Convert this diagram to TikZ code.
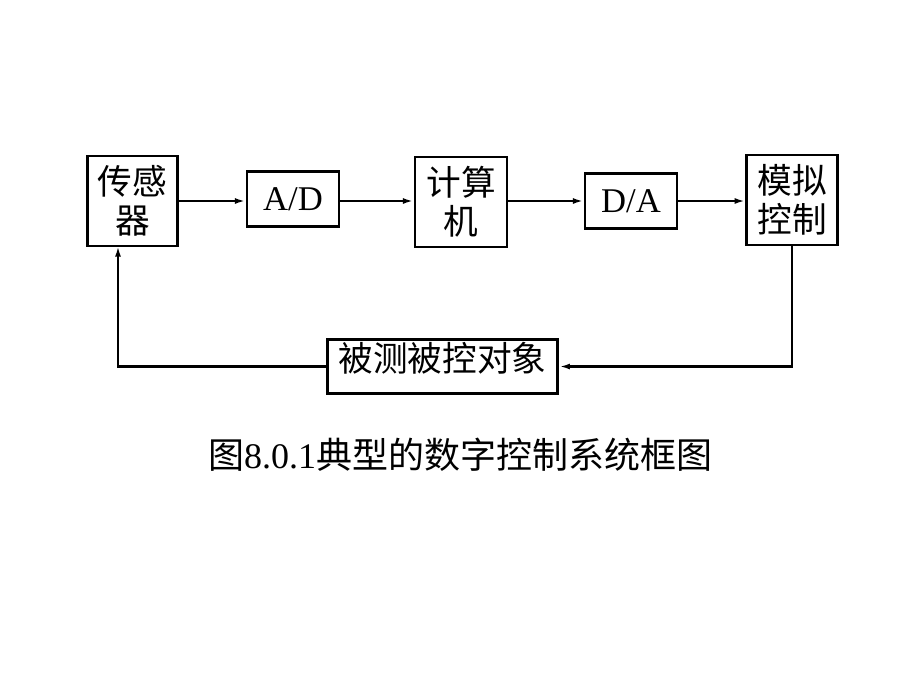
\documentclass[tikz,border=0pt]{standalone}
\usepackage{fontspec}
\setmainfont{Liberation Serif}
\newfontfamily\cjk{Noto Sans CJK SC}
\usetikzlibrary{arrows.meta}
\tikzset{
  blk/.style={draw, line width=2.2pt, inner sep=2pt, align=center,
    font=\fontsize{26pt}{29pt}\selectfont},
  sig/.style={line width=1.9pt, -{Latex[length=8pt,width=4.5pt]}},
}
\begin{document}
\begin{tikzpicture}[x=0.75pt, y=-0.75pt]
  \useasboundingbox (0,0) rectangle (920,690);

  % forward path
  \node[blk, minimum width=68pt, minimum height=67.5pt] (sensor) at (132.5,201) {\cjk 传感\\\cjk 器};
  \node[blk, minimum width=69pt, minimum height=41pt] (ad) at (293,199) {A/D};
  \node[blk, minimum width=69pt, minimum height=67.5pt] (comp) at (461,202) {\cjk 计算\\\cjk 机};
  \node[blk, minimum width=69pt, minimum height=41pt] (da) at (631,201) {D/A};
  \node[blk, minimum width=68pt, minimum height=67.5pt] (sim) at (792,200) {\cjk 模拟\\\cjk 控制};

  \draw[sig] (sensor.east |- 0,201) -- (ad.west |- 0,201);
  \draw[sig] (ad.east |- 0,201) -- (comp.west |- 0,201);
  \draw[sig] (comp.east |- 0,201) -- (da.west |- 0,201);
  \draw[sig] (da.east |- 0,201) -- (sim.west |- 0,201);

  % feedback path
  \node[blk, minimum width=173pt, minimum height=41pt, text height=22pt, text depth=14pt] (plant) at (442.5,366.5) {\cjk 被测被控对象};
  \coordinate (fb) at (118,246);
  \draw[sig] (sim.south) |- (plant.east);
  \draw[sig] (plant.west) -| (fb);

  \node[font=\fontsize{27pt}{30pt}\selectfont] (cap) at (460,455) {{\cjk 图}8.0.1{\cjk 典型的数字控制系统框图}};
\end{tikzpicture}
\end{document}
